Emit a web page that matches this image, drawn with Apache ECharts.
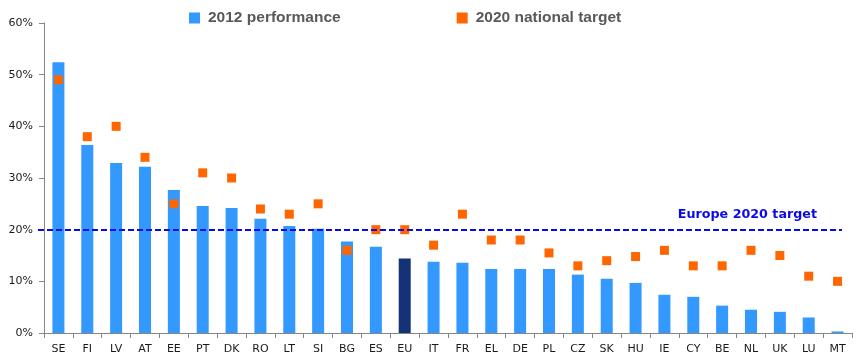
<!DOCTYPE html>
<html>
<head>
<meta charset="utf-8">
<script src="https://cdn.jsdelivr.net/npm/echarts@6/dist/echarts.min.js"></script>
<style>
html,body{margin:0;padding:0;background:#fff;}
#chart{width:868px;height:363px;}
</style>
</head>
<body>
<div id="chart"></div>
<script>
var categories = ['SE','FI','LV','AT','EE','PT','DK','RO','LT','SI','BG','ES','EU','IT','FR','EL','DE','PL','CZ','SK','HU','IE','CY','BE','NL','UK','LU','MT'];
var performance2012 = [52.4, 36.4, 32.9, 32.2, 27.7, 24.6, 24.2, 22.1, 20.7, 20.2, 17.7, 16.7, 14.4, 13.8, 13.6, 12.4, 12.4, 12.4, 11.3, 10.5, 9.7, 7.4, 7.0, 5.3, 4.5, 4.1, 3.0, 0.3];
var nationalTarget2020 = [49, 38, 40, 34, 25, 31, 30, 24, 23, 25, 16, 20, 20, 17, 23, 18, 18, 15.5, 13, 14, 14.8, 16, 13, 13, 16, 15, 11, 10];
var europeTarget = 20;
var yTicks = [0, 10, 20, 30, 40, 50, 60];

var chart = echarts.init(document.getElementById('chart'), null, {renderer: 'canvas'});

var barData = performance2012.map(function (v, i) {
  if (categories[i] === 'EU') {
    return {value: v, itemStyle: {color: '#153278'}};
  }
  return v;
});

var option = {
  animation: false,
  backgroundColor: '#ffffff',
  legend: {
    left: 184,
    top: 5,
    itemWidth: 11,
    itemHeight: 11,
    itemGap: 116,
    textStyle: {
      fontFamily: 'Liberation Sans',
      fontWeight: 'bold',
      fontSize: 15.5,
      color: '#595959',
      padding: [0, 0, 0, 3]
    },
    data: [
      {name: '2012 performance', icon: 'rect', itemStyle: {color: '#3399FF', opacity: 1}},
      {name: '2020 national target', icon: 'rect', itemStyle: {color: '#FF6600', opacity: 1}}
    ]
  },
  grid: {left: 44, right: 16, top: 23, bottom: 30, containLabel: false},
  xAxis: {
    type: 'category',
    data: categories,
    axisLine: {lineStyle: {color: '#868686', width: 1}},
    axisTick: {show: true, length: 5, lineStyle: {color: '#868686'}},
    axisLabel: {
      margin: 11,
      fontFamily: 'DejaVu Sans',
      fontSize: 11,
      color: '#1a1a1a',
      interval: 0
    },
    splitLine: {show: false}
  },
  yAxis: {
    type: 'value',
    min: yTicks[0],
    max: yTicks[yTicks.length - 1],
    interval: 10,
    axisLine: {show: true, lineStyle: {color: '#868686', width: 1}},
    axisTick: {show: true, length: 5, lineStyle: {color: '#868686'}},
    axisLabel: {
      margin: 11,
      fontFamily: 'DejaVu Sans',
      fontSize: 11,
      color: '#1a1a1a',
      formatter: '{value}%'
    },
    splitLine: {show: false}
  },
  series: [
    {
      name: '2012 performance',
      type: 'bar',
      barWidth: 12,
      itemStyle: {color: '#3399FF'},
      data: barData,
      markLine: {
        silent: true,
        symbol: ['none', 'none'],
        lineStyle: {color: '#0A0AE6', width: 2, type: [6, 3]},
        label: {
          show: true,
          position: 'insideEndTop',
          distance: [25, 8],
          formatter: 'Europe 2020 target',
          color: '#0A0AE6',
          fontFamily: 'DejaVu Sans',
          fontWeight: 'bold',
          fontSize: 12.7
        },
        data: [[{x: 38, yAxis: europeTarget}, {x: 842, yAxis: europeTarget}]]
      }
    },
    {
      name: '2020 national target',
      type: 'scatter',
      symbol: 'rect',
      symbolSize: 9,
      itemStyle: {color: '#FF6600', opacity: 1},
      z: 3,
      data: nationalTarget2020
    }
  ]
};

chart.setOption(option);
</script>
</body>
</html>
